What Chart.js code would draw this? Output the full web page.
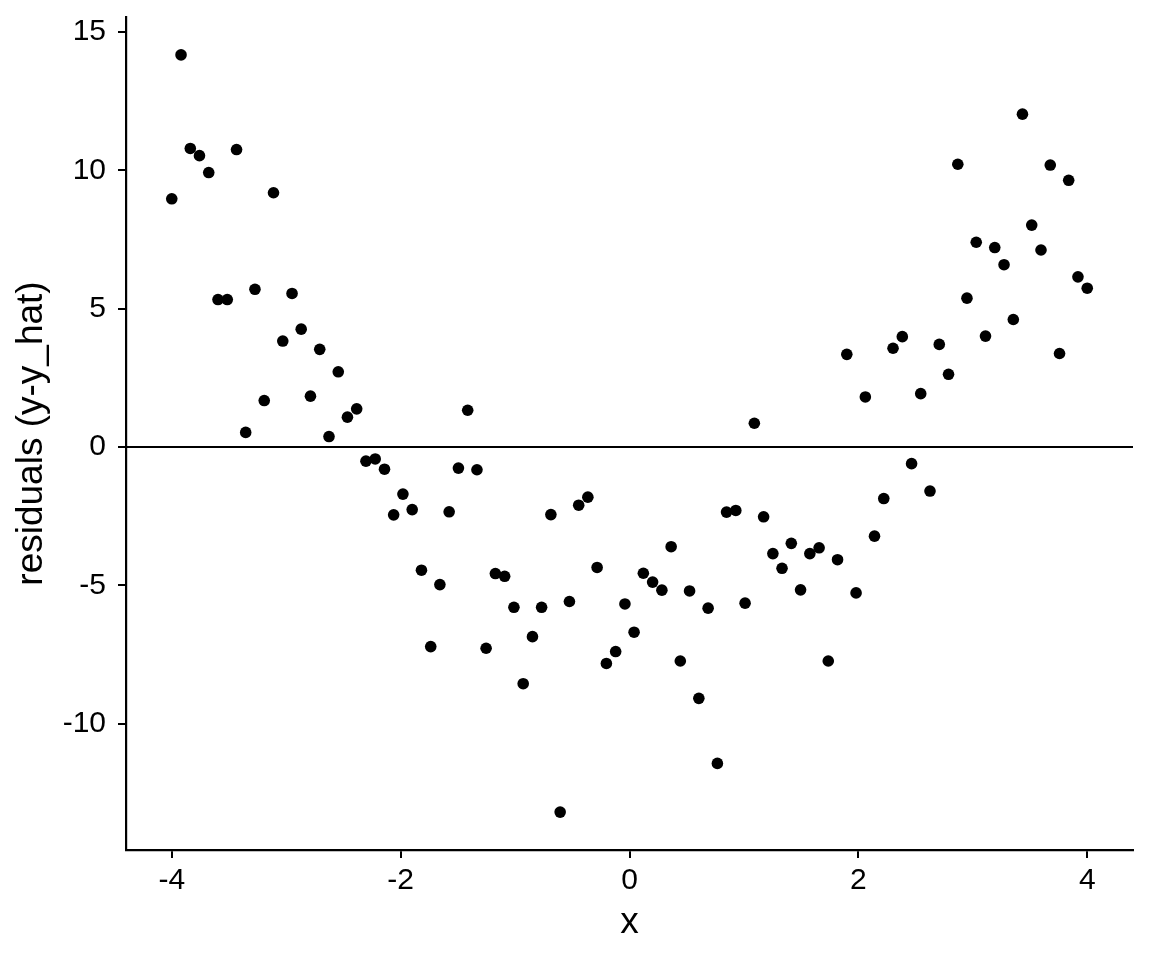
<!DOCTYPE html>
<html lang="en">
<head>
    <meta charset="UTF-8">
    <title>Residuals vs x</title>
    <script src="https://cdn.jsdelivr.net/npm/chart.js"></script>
    <style>
        * { margin: 0; padding: 0; box-sizing: border-box; }
        body { background: #fff; }
        .chart-container { position: relative; width: 1152px; height: 960px; }
    </style>
</head>
<body>
    <div class="chart-container">
        <canvas id="residPlot"></canvas>
    </div>

    <script>
        // x positions of the observations
        const xValues = [
            -4.000, -3.919, -3.838, -3.758, -3.677, -3.596, -3.515, -3.434, -3.354, -3.273,
            -3.192, -3.111, -3.030, -2.949, -2.869, -2.788, -2.707, -2.626, -2.545, -2.465,
            -2.384, -2.303, -2.222, -2.141, -2.061, -1.980, -1.899, -1.818, -1.737, -1.657,
            -1.576, -1.495, -1.414, -1.333, -1.253, -1.172, -1.091, -1.010, -0.929, -0.848,
            -0.768, -0.687, -0.606, -0.525, -0.444, -0.364, -0.283, -0.202, -0.121, -0.040,
             0.040,  0.121,  0.202,  0.283,  0.364,  0.444,  0.525,  0.606,  0.687,  0.768,
             0.848,  0.929,  1.010,  1.091,  1.172,  1.253,  1.333,  1.414,  1.495,  1.576,
             1.657,  1.737,  1.818,  1.899,  1.980,  2.061,  2.141,  2.222,  2.303,  2.384,
             2.465,  2.545,  2.626,  2.707,  2.788,  2.869,  2.949,  3.030,  3.111,  3.192,
             3.273,  3.354,  3.434,  3.515,  3.596,  3.677,  3.758,  3.838,  3.919,  4.000
        ];

        // residuals (y - y_hat)
        const residuals = [
             8.97, 14.17, 10.79, 10.53,  9.92,  5.33,  5.33, 10.75,  0.53,  5.70,
             1.68,  9.19,  3.83,  5.55,  4.26,  1.84,  3.53,  0.38,  2.72,  1.08,
             1.38, -0.51, -0.43, -0.80, -2.45, -1.70, -2.26, -4.45, -7.21, -4.97,
            -2.34, -0.76,  1.33, -0.82, -7.27, -4.57, -4.67, -5.79, -8.55, -6.85,
            -5.79, -2.44,-13.19, -5.58, -2.10, -1.81, -4.35, -7.82, -7.39, -5.67,
            -6.69, -4.56, -4.88, -5.17, -3.60, -7.73, -5.20, -9.08, -5.82,-11.43,
            -2.35, -2.29, -5.64,  0.86, -2.52, -3.85, -4.38, -3.48, -5.16, -3.85,
            -3.64, -7.73, -4.07,  3.35, -5.27,  1.81, -3.22, -1.86,  3.57,  3.99,
            -0.60,  1.93, -1.59,  3.71,  2.63, 10.22,  5.38,  7.40,  4.01,  7.21,
             6.59,  4.61, 12.03,  8.02,  7.12, 10.19,  3.38,  9.64,  6.15,  5.74
        ];

        const xTicks = [-4, -2, 0, 2, 4];
        const yTicks = [-10, -5, 0, 5, 10, 15];
        const hlineY = 0;

        const fontFamily = "'Liberation Sans', Arial, Helvetica, sans-serif";
        const tickFont = { family: fontFamily, size: 30 };
        const titleFont = { family: fontFamily, size: 37 };

        // horizontal reference line at y = 0
        const hlinePlugin = {
            id: 'hline',
            beforeDatasetsDraw(chart) {
                const { ctx, chartArea, scales } = chart;
                const py = scales.y.getPixelForValue(hlineY);
                ctx.save();
                ctx.strokeStyle = '#000';
                ctx.lineWidth = 2;
                ctx.beginPath();
                ctx.moveTo(chartArea.left, py);
                ctx.lineTo(chartArea.right, py);
                ctx.stroke();
                ctx.restore();
            }
        };

        new Chart(document.getElementById('residPlot'), {
            type: 'scatter',
            data: {
                datasets: [{
                    data: xValues.map((x, i) => ({ x: x, y: residuals[i] })),
                    backgroundColor: '#000',
                    borderWidth: 0,
                    pointRadius: 5.8,
                    pointHoverRadius: 5.8
                }]
            },
            options: {
                responsive: true,
                maintainAspectRatio: false,
                animation: false,
                layout: { padding: { top: 17, right: 19, left: 0, bottom: 0 } },
                plugins: {
                    legend: { display: false },
                    tooltip: { enabled: false }
                },
                scales: {
                    x: {
                        type: 'linear',
                        min: -4.4,
                        max: 4.4,
                        afterBuildTicks: (s) => { s.ticks = xTicks.map(v => ({ value: v })); },
                        afterFit: (s) => {
                            s.height = 110;
                            s.paddingLeft = 0;
                            s.paddingRight = 0;
                        },
                        ticks: {
                            color: '#000',
                            font: tickFont,
                            padding: 5,
                            maxRotation: 0,
                            callback: (v) => String(v)
                        },
                        grid: {
                            drawOnChartArea: false,
                            drawTicks: true,
                            tickLength: 8,
                            color: '#000',
                            lineWidth: 2
                        },
                        border: { display: true, color: '#000', width: 2.2 },
                        title: {
                            display: true,
                            text: 'x',
                            color: '#000',
                            font: titleFont,
                            padding: { top: 0, bottom: 15 }
                        }
                    },
                    y: {
                        type: 'linear',
                        min: -14.56,
                        max: 15.54,
                        afterBuildTicks: (s) => { s.ticks = yTicks.map(v => ({ value: v })); },
                        afterFit: (s) => {
                            s.width = 126;
                            s.paddingTop = 0;
                            s.paddingBottom = 0;
                        },
                        ticks: {
                            color: '#000',
                            font: tickFont,
                            padding: 12,
                            callback: (v) => String(v)
                        },
                        grid: {
                            drawOnChartArea: false,
                            drawTicks: true,
                            tickLength: 8,
                            color: '#000',
                            lineWidth: 2
                        },
                        border: { display: true, color: '#000', width: 2.2 },
                        title: {
                            display: true,
                            text: 'residuals (y-y_hat)',
                            color: '#000',
                            font: titleFont,
                            padding: { top: 10, bottom: 0 }
                        }
                    }
                }
            },
            plugins: [hlinePlugin]
        });
    </script>
</body>
</html>
